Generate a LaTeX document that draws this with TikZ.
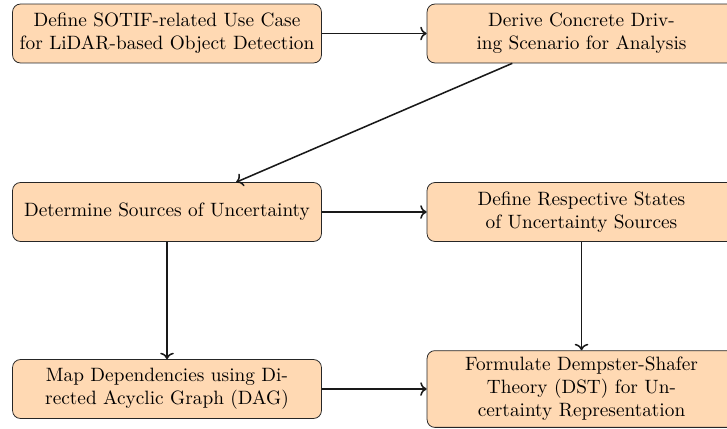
\documentclass[tikz,border=0pt]{standalone}
\usetikzlibrary{arrows.meta}
\definecolor{boxfill}{RGB}{255,217,179}
\tikzset{
  stepbox/.style={draw=black!85, fill=boxfill, rounded corners=4pt, align=center,
    minimum width=160pt, minimum height=30.5pt, inner sep=3.33pt},
  flow/.style={->, thick, black!90}
}
\begin{document}
\begin{tikzpicture}[x=0.5181pt, y=-0.5181pt]
\useasboundingbox (0,0) rectangle (727,428);
\clip (0,0) rectangle (727,428);
\node[stepbox] (n1) at (167,33.5) {Define SOTIF-related Use Case\\for LiDAR-based Object Detection};
\node[stepbox] (n2) at (581.5,33.5) {Derive Concrete Driv-\\ing Scenario for Analysis};
\node[stepbox] (n3) at (167,212) {Determine Sources of Uncertainty};
\node[stepbox] (n4) at (581.5,212) {Define Respective States\\of Uncertainty Sources};
\node[stepbox] (n5) at (167,389) {Map Dependencies using Di-\\rected Acyclic Graph (DAG)};
\node[stepbox] (n6) at (581.5,389) {Formulate Dempster-Shafer\\Theory (DST) for Un-\\certainty Representation};
\draw[flow] (n1) -- (n2);
\draw[flow] (n2) -- (n3);
\draw[flow] (n3) -- (n4);
\draw[flow] (n3) -- (n5);
\draw[flow] (n4) -- (n6);
\draw[flow] (n5) -- (n6);
\end{tikzpicture}
\end{document}
